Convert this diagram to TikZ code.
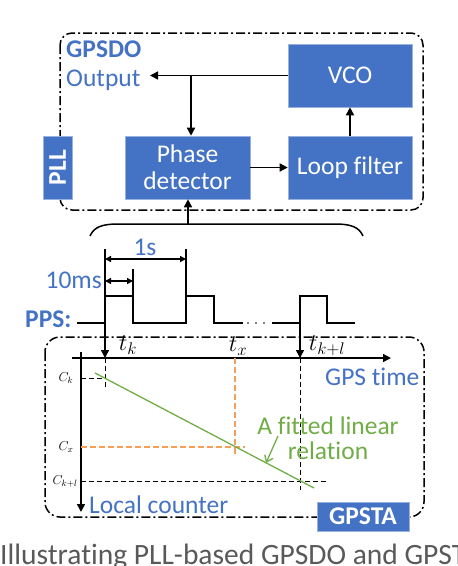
\RequirePackage{fix-cm}
\documentclass[tikz,border=0pt]{standalone}
\usepackage{fontspec}
\setmainfont[Ligatures=NoCommon]{Carlito}
\usetikzlibrary{arrows.meta,calc}
\definecolor{pblue}{HTML}{4472C4}
\definecolor{pgreen}{HTML}{70AD47}
\definecolor{porange}{HTML}{F4A05A}
\definecolor{capgray}{HTML}{595959}
\newcommand\bigfont{\fontsize{25.5}{28}\selectfont}
\tikzset{
  blk/.style={fill=pblue, draw=pblue!55!white, line width=0.6pt, text=white,
    font=\bigfont, align=center, inner sep=0pt},
  lbl/.style={text=pblue, font=\bigfont, inner sep=0pt},
  arr/.style={line width=1.5pt, -{Triangle[length=8pt,width=8pt]}},
  dimarr/.style={line width=1.5pt, {Triangle[length=6pt,width=6pt]}-{Triangle[length=6pt,width=6pt]}},
  dashdot/.style={line width=1.5pt, dash pattern=on 9pt off 3pt on 2pt off 3pt},
  sig/.style={line width=1.3pt},
  mlbl/.style={font=\fontsize{24}{26}\selectfont, inner sep=0pt},
  clbl/.style={font=\fontsize{13}{14}\selectfont, inner sep=0pt},
  guide/.style={line width=0.8pt, dash pattern=on 5pt off 3pt},
  oguide/.style={line width=1.3pt, dash pattern=on 6pt off 3pt, draw=porange},
}
\begin{document}
\begin{tikzpicture}[x=1pt,y=-1pt]
\useasboundingbox (0,0) rectangle (458,566);
\begin{scope}
\clip (0,0) rectangle (458,566);
% ---------- GPSDO box ----------
\draw[dashdot, rounded corners=12pt] (60,33) rectangle (423,210);
\node[blk, minimum width=124pt, minimum height=63pt] (vco) at (350,75.5) {VCO};
\node[blk, minimum width=124pt, minimum height=63pt] (loop) at (350,167.5) {Loop filter};
\node[blk, minimum width=125pt, minimum height=63pt, font=\fontsize{25.5}{27}\selectfont] (phase) at (187.5,167.5) {Phase\\detector};
\node[blk, minimum width=63pt, minimum height=29pt, rotate=90, font=\bfseries\bigfont] (pll) at (57.5,167.5) {PLL};
\node[lbl, anchor=west, font=\bfseries\bigfont] (gpsdo) at (66,49) {GPSDO};
\node[lbl, anchor=west] (outp) at (66,80) {Output};
\coordinate (oa) at (150,75.5);
\coordinate (br) at (191,75.5);
\draw[arr] (vco.west) -- (oa);
\draw[arr] (br) -- (br |- phase.north);
\draw[arr] (phase.east) -- (loop.west);
\draw[arr] (loop.north) -- (vco.south);
% ---------- brace ----------
\coordinate (bt) at (188,224);
\draw[line width=1.5pt] (90,236) .. controls (94,227) and (102,224) .. (118,224) -- (335,224) .. controls (351,224) and (359,227) .. (363,236);
\draw[arr] (bt) -- (bt |- phase.south);
% ---------- PPS signal ----------
\node[lbl, anchor=west, font=\bfseries\bigfont] (pps) at (25,319) {PPS:};
\draw[sig] (77,323) -- (105,323) -- (105,296) -- (133,296) -- (133,323) -- (186,323) -- (186,296) -- (214,296) -- (214,323) -- (243,323);
\draw[sig] (272,323) -- (300,323) -- (300,296) -- (327,296) -- (327,323) -- (355,323);
\foreach \xx in {248,256,264} \fill (\xx,323) circle (0.9pt);
\draw[sig] (186,249) -- (186,296);
\draw[sig] (133,269) -- (133,296);
\coordinate (ka) at (105,249);
\coordinate (kb) at (105,358);
\coordinate (la) at (300,296);
\coordinate (lb) at (300,358);
\draw[dimarr] (105,259) -- (186,259);
\node[lbl] (one) at (145,247) {1s};
\draw[dimarr] (105,281) -- (133,281);
\node[lbl, anchor=east] (tenms) at (102,280) {10ms};
% ---------- GPSTA box ----------
\draw[dashdot, rounded corners=15pt] (45,337) rectangle (424,517);
% axes
\coordinate (gx0) at (72,358);
\coordinate (gx1) at (391,358);
\coordinate (ly0) at (81,352);
\coordinate (ly1) at (81,512);
\draw[arr] (gx0) -- (gx1);
\draw[arr] (ly0) -- (ly1);
\draw[arr] (ka) -- (kb);
\draw[arr] (la) -- (lb);
\node[lbl, anchor=west] (gpst) at (325,377) {GPS time};
\node[lbl, anchor=west] (lc) at (89,505) {Local counter};
% time labels
\node[mlbl] (tk) at (128,345) {$t_k$};
\node[mlbl] (tx) at (238,346) {$t_x$};
\node[mlbl] (tkl) at (327,346) {$t_{k+l}$};
% guides
\draw[guide] (kb) -- (105,388);
\draw[guide] (81,378) -- (105,378);
\node[clbl] (ck) at (66,378) {$C_k$};
\draw[oguide] (235,358) -- (235,455);
\draw[oguide] (81,447) -- (245,447);
\node[clbl] (cx) at (66,447) {$C_x$};
\draw[guide] (lb) -- (300,490);
\draw[guide] (81,481) -- (326,481);
\node[clbl] (ckl) at (65,481) {$C_{k+l}$};
% fitted line
\coordinate (f0) at (95,373);
\coordinate (f1) at (314,488);
\draw[pgreen, line width=1.3pt] (f0) -- (f1);
\node[text=pgreen, align=center, font=\fontsize{25.5}{25}\selectfont, inner sep=0pt] (fit) at (328,438) {A fitted linear\\relation};
\coordinate (fa) at (278,436);
\coordinate (fb) at (266,463);
\draw[pgreen, line width=1.3pt, -{Straight Barb[length=6pt,width=9pt]}] (fa) -- (fb);
\node[blk, minimum width=92pt, minimum height=29pt, font=\bfseries\bigfont] (gpsta) at (363,516.5) {GPSTA};
% caption
\node[anchor=base west, text=capgray, font=\fontsize{29.5}{30}\selectfont, inner sep=0pt] (cap) at (0,564) {Illustrating PLL-based GPSDO and GPST};
\end{scope}
\end{tikzpicture}
\end{document}
